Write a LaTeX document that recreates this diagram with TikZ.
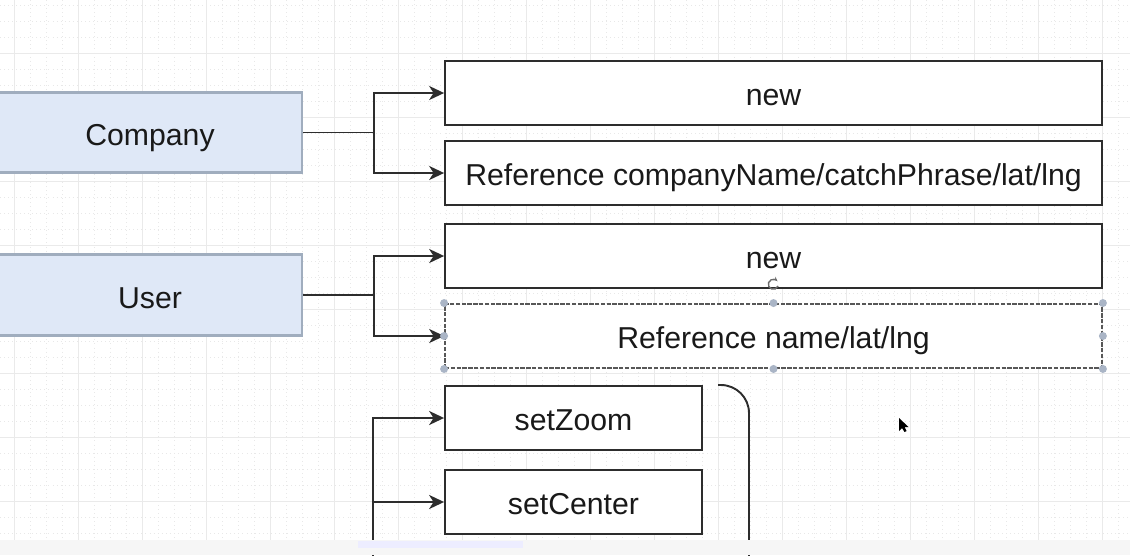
\documentclass[tikz,border=0pt]{standalone}
\usepackage{fontspec}
\setmainfont{Liberation Sans}
\usetikzlibrary{arrows.meta, positioning}
\definecolor{gridmajor}{RGB}{234,234,234}
\definecolor{gridminor}{RGB}{232,232,232}
\definecolor{entityfill}{RGB}{223,232,247}
\definecolor{entityline}{RGB}{160,173,190}
\definecolor{boxline}{RGB}{45,45,45}
\definecolor{handlegrey}{RGB}{170,181,198}
\definecolor{textdark}{RGB}{25,25,25}

\tikzset{
    entity/.style={draw=entityline, fill=entityfill, line width=1.5pt, inner sep=0pt,
        minimum width=6.08cm, minimum height=1.61cm, text=textdark,
        font=\fontsize{17.2}{20}\selectfont, text height=15.2pt, text depth=0pt},
    method/.style={draw=boxline, fill=white, line width=1.1pt, inner sep=0pt,
        minimum width=13.14cm, minimum height=1.28cm, text=textdark,
        font=\fontsize{17.2}{20}\selectfont, text height=14pt, text depth=0pt},
    shortmethod/.style={method, minimum width=5.14cm},
    link/.style={draw=boxline, line width=1.1pt, -{Stealth[length=8.5pt, width=8pt, inset=2.5pt]}},
    handle/.style={fill=handlegrey, draw=none}
}

\begin{document}
\begin{tikzpicture}[x=0.02cm, y=-0.02cm]
    \useasboundingbox (0,0) rectangle (1130,555);

    % Grid
    \foreach \x in {14,30,...,1130} \draw[gridminor, line width=0.3pt, dotted] (\x,0) -- (\x,555);
    \foreach \y in {5,21,...,555} \draw[gridminor, line width=0.3pt, dotted] (0,\y) -- (1130,\y);
    \foreach \x in {14,78,...,1130} \draw[gridmajor, line width=0.5pt] (\x,0) -- (\x,555);
    \foreach \y in {53,117,...,555} \draw[gridmajor, line width=0.5pt] (0,\y) -- (1130,\y);

    % Entities
    \node[entity] (company) at (150,132.5) {Company};
    \node[entity] (user) at (150,295) {User};

    % Company methods
    \node[method] (companynew) at (773.5,93) {new};
    \node[method] (companyref) at (773.5,173) {Reference companyName/catchPhrase/lat/lng};

    % User methods
    \node[method] (usernew) at (773.5,256) {new};
    \node[method, draw=boxline!80, dash pattern=on 2.5pt off 0.8pt] (userref) at (773.5,336) {Reference name/lat/lng};

    % Map methods
    \node[shortmethod] (setzoom) at (573.5,418) {setZoom};
    \node[shortmethod] (setcenter) at (573.5,502) {setCenter};

    % Connectors
    \draw[boxline, line width=1.1pt] (company.east) -- ++(71,0) coordinate (companyjoint);
    \draw[link] (companyjoint) |- (companynew.west);
    \draw[link] (companyjoint) |- (companyref.west);

    \draw[boxline, line width=1.1pt] (user.east) -- ++(71,0) coordinate (userjoint);
    \draw[link] (userjoint) |- (usernew.west);
    \draw[link] (userjoint) |- (userref.west);

    \coordinate (mapjoint) at (373,560);
    \draw[link] (mapjoint) |- (setzoom.west);
    \draw[link] (mapjoint) |- (setcenter.west);

    % Bracket
    \coordinate (brackettop) at (718,385);
    \coordinate (bracketbottom) at (749,560);
    \draw[boxline, line width=1.1pt, rounded corners=16] (brackettop) -| (bracketbottom);

    % Selection handles
    \foreach \pos in {north west, north, north east, west, east, south west, south, south east}
        \fill[handle] (userref.\pos) circle (4);
    \draw[boxline!70, line width=0.8pt, -{Stealth[length=2.5pt]}] (778,286) arc (20:320:5);

    % Cursor
    \fill[black] (899,418) -- (899,431) -- (902,428) -- (904.5,432) -- (906.5,431) -- (904.5,427) -- (908.5,427) -- cycle;

    % Bottom bar
    \fill[gray!7] (0,540) rectangle (1130,555);
    \fill[blue!7] (358,541) rectangle (523,548);
\end{tikzpicture}
\end{document}
